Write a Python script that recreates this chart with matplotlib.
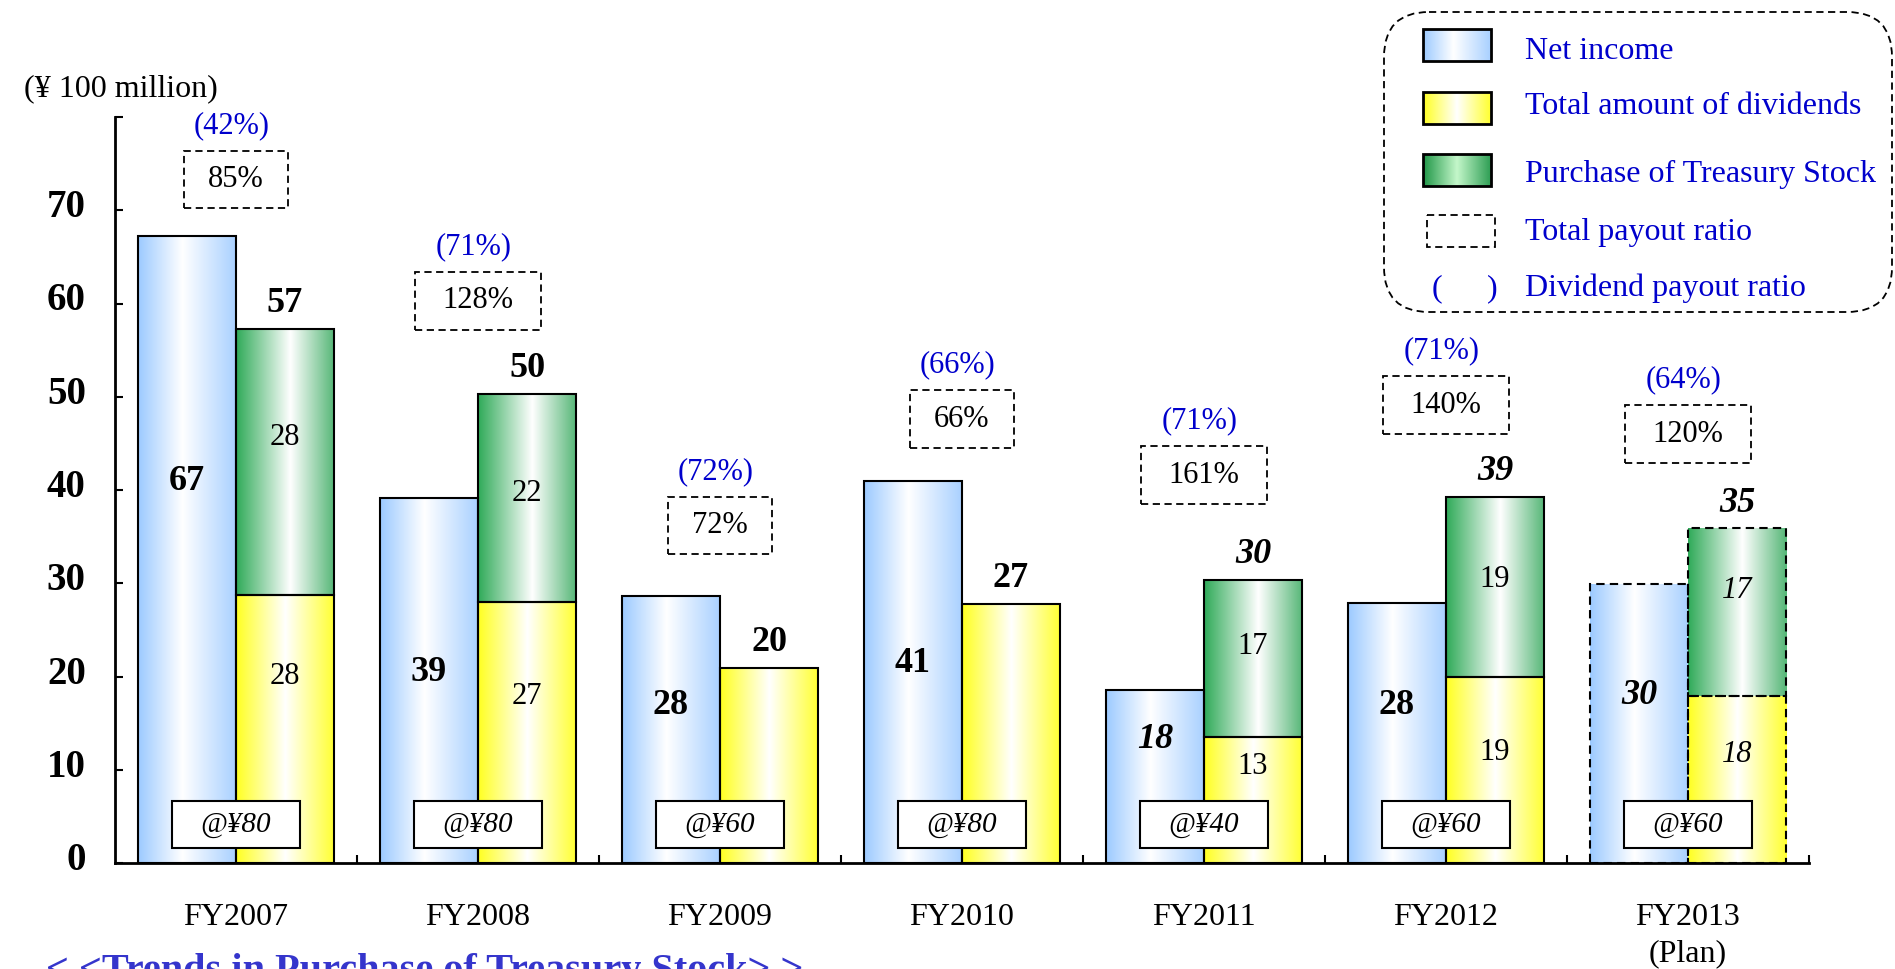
import numpy as np
import matplotlib.pyplot as plt
import matplotlib.colors as mcolors
import matplotlib.transforms as mtransforms
from matplotlib.patches import Rectangle, FancyBboxPatch

plt.rcParams['font.family'] = ['Liberation Serif', 'DejaVu Serif']

# values (¥100 million)
years = ['FY2007', 'FY2008', 'FY2009', 'FY2010', 'FY2011', 'FY2012', 'FY2013\n(Plan)']
net_income = [67.2, 39.1, 28.6, 41.0, 18.6, 27.9, 29.9]
dividends = [28.7, 28.0, 20.9, 27.8, 13.5, 20.0, 17.9]
treasury = [28.6, 22.3, 0, 0, 16.9, 19.3, 18.0]

# printed labels
net_income_lbl = [67, 39, 28, 41, 18, 28, 30]
dividends_lbl = [28, 27, 20, 27, 13, 19, 18]
treasury_lbl = [28, 22, 0, 0, 17, 19, 17]
total_lbl = [57, 50, 20, 27, 30, 39, 35]
total_payout = [85, 128, 72, 66, 161, 140, 120]
dividend_payout = [42, 71, 72, 66, 71, 71, 64]
dps = [80, 80, 60, 80, 40, 60, 60]
plan = [False] * 6 + [True]

# label placement (data units)
ni_lbl_y = [40.9, 20.4, 16.9, 21.4, 13.2, 16.9, 18.0]
ni_italic = [False, False, False, False, True, False, True]
total_italic = [False, False, False, False, True, True, True]
div_lbl_y = [20.0, 17.9, 0, 0, 10.4, 11.9, 11.6]
tsy_lbl_y = [45.6, 39.6, 0, 0, 23.2, 30.4, 29.2]
box_y = [73.3, 60.3, 36.2, 47.6, 41.6, 49.1, 46.0]

BLUE_TXT = '#0000cc'
DASH = (0, (4, 2.5))


def gradient(ax, x0, y0, w, h, left, mid, right, pos=0.5, zorder=2):
    t = np.linspace(0, 1, 256)
    l, m, r = (np.array(mcolors.to_rgb(c)) for c in (left, mid, right))
    a = np.clip(t / pos, 0, 1)[:, None]
    b = np.clip((t - pos) / (1 - pos), 0, 1)[:, None]
    cols = np.where(t[:, None] < pos, l + (m - l) * a, m + (r - m) * b)
    ax.imshow(cols[None, :, :], extent=[x0, x0 + w, y0, y0 + h], aspect='auto',
              interpolation='bilinear', zorder=zorder)


fig = plt.figure(figsize=(18.95, 9.69), dpi=100)
ax = fig.add_axes([115 / 1895, 106 / 969, (1809 - 115) / 1895, 746 / 969])

x = np.arange(len(years))
w = 0.405
tsy = np.array(treasury, dtype=float)
div = np.array(dividends, dtype=float)

b_ni = ax.bar(x - w / 2, net_income, w, facecolor='none', edgecolor='black', lw=1.5, zorder=3)
b_div = ax.bar(x + w / 2, dividends, w, facecolor='none', edgecolor='black', lw=1.5, zorder=3)
has_t = tsy > 0
b_tsy = ax.bar((x + w / 2)[has_t], tsy[has_t], w, bottom=div[has_t], facecolor='none',
               edgecolor='black', lw=1.5, zorder=3)

for p in b_ni:
    gradient(ax, p.get_x(), p.get_y(), p.get_width(), p.get_height(), '#9ccaff', '#ffffff', '#a8d0ff', 0.45)
for p in b_div:
    gradient(ax, p.get_x(), p.get_y(), p.get_width(), p.get_height(), '#ffff20', '#ffffff', '#ffff30', 0.5)
for p in b_tsy:
    gradient(ax, p.get_x(), p.get_y(), p.get_width(), p.get_height(), '#2faa58', '#ffffff', '#55b676', 0.55)

# plan year drawn with dashed outlines
b_ni[-1].set_linestyle(DASH)
b_div[-1].set_linestyle(DASH)
b_tsy[-1].set_linestyle(DASH)

for i in range(len(years)):
    style = 'italic' if plan[i] else 'normal'
    ax.text(x[i] - w / 2, ni_lbl_y[i], str(net_income_lbl[i]), ha='center', va='center',
            fontsize=26, fontweight='bold', style='italic' if ni_italic[i] else 'normal', zorder=5)
    top = div[i] + tsy[i]
    ax.text(x[i] + w / 2, top + 2.7, str(total_lbl[i]), ha='center', va='center',
            fontsize=26, fontweight='bold', style='italic' if total_italic[i] else 'normal', zorder=5)
    if tsy[i] > 0:
        ax.text(x[i] + w / 2, div_lbl_y[i], str(dividends_lbl[i]), ha='center', va='center',
                fontsize=22, style=style, zorder=5)
        ax.text(x[i] + w / 2, tsy_lbl_y[i], str(treasury_lbl[i]), ha='center', va='center',
                fontsize=22, style=style, zorder=5)
    # total payout ratio box
    s = f'{total_payout[i]}%'
    bw = 0.52 if len(s) > 3 else 0.43
    ax.add_patch(Rectangle((x[i] - bw / 2, box_y[i] - 3.1), bw, 6.2, fill=False,
                           edgecolor='black', lw=1.3, linestyle=DASH, zorder=4))
    ax.text(x[i], box_y[i], s, ha='center', va='center', fontsize=22, zorder=5)
    ax.text(x[i] - 0.02, box_y[i] + 5.8, f'({dividend_payout[i]}%)', ha='center', va='center',
            fontsize=22, color=BLUE_TXT, zorder=5)
    # dividend per share box
    ax.add_patch(Rectangle((x[i] - 0.265, 1.6), 0.53, 5.0, facecolor='white',
                           edgecolor='black', lw=1.5, zorder=4))
    ax.text(x[i], 4.1, f'@¥{dps[i]}', ha='center', va='center', fontsize=21,
            style='italic', zorder=5)

ax.set_xlim(-0.5, 6.5)
ax.set_ylim(0, 80)
for sp in ('top', 'right'):
    ax.spines[sp].set_visible(False)
for sp in ('left', 'bottom'):
    ax.spines[sp].set_linewidth(2)

ax.set_yticks(np.arange(0, 81, 10))
ax.set_yticklabels([str(v) for v in range(0, 71, 10)] + [''])
ax.tick_params(axis='y', direction='in', length=6, width=1.5, pad=21, labelsize=28)
for lab in ax.get_yticklabels():
    lab.set_fontweight('bold')
    lab.set_transform(lab.get_transform() + mtransforms.ScaledTranslation(0, 0.07, fig.dpi_scale_trans))

ax.set_xticks(np.arange(0.5, 7, 1))
ax.set_xticklabels([])
ax.tick_params(axis='x', which='major', direction='in', length=6, width=1.5)
ax.set_xticks(x, minor=True)
ax.set_xticklabels(years, minor=True, fontsize=23, linespacing=1.3)
ax.tick_params(axis='x', which='minor', length=0, pad=29)

fig.text(24 / 1895, 1 - 89 / 969, '(¥ 100 million)', fontsize=23, ha='left', va='center')
fig.text(46 / 1895, -12 / 969, '< <Trends in Purchase of Treasury Stock> >', fontsize=29,
         fontweight='bold', color='#3535cc', ha='left', va='baseline')

# legend, placed in pixel coordinates
ov = fig.add_axes([0, 0, 1, 1])
ov.set_xlim(0, 1895)
ov.set_ylim(969, 0)
ov.axis('off')
ov.add_patch(FancyBboxPatch((1384, 12), 508, 300, boxstyle='round,pad=0,rounding_size=45',
                            fill=False, edgecolor='black', lw=1.3, linestyle=DASH))
sw = [('#9ccaff', '#ffffff', '#a8d0ff', 0.45), ('#ffff20', '#ffffff', '#ffff30', 0.5),
      ('#1e9646', '#c4f7ca', '#2e9e54', 0.5)]
for (c1, c2, c3, pos), y0 in zip(sw, [29, 92, 154]):
    gradient(ov, 1423, y0 + 32, 68, -32, c1, c2, c3, pos)
    ov.add_patch(Rectangle((1423, y0), 68, 32, fill=False, edgecolor='black', lw=2, zorder=3))
ov.add_patch(Rectangle((1427, 215), 68, 32, fill=False, edgecolor='black', lw=1.3,
                       linestyle=DASH, zorder=3))
ov.text(1437, 289, '(', fontsize=23, color=BLUE_TXT, ha='center', va='center')
ov.text(1492, 289, ')', fontsize=23, color=BLUE_TXT, ha='center', va='center')
for txt, yc in zip(['Net income', 'Total amount of dividends', 'Purchase of Treasury Stock',
                    'Total payout ratio', 'Dividend payout ratio'], [51, 106, 174, 232, 288]):
    ov.text(1525, yc, txt, fontsize=23, color=BLUE_TXT, ha='left', va='center')

fig.savefig('out.png', dpi=100)
